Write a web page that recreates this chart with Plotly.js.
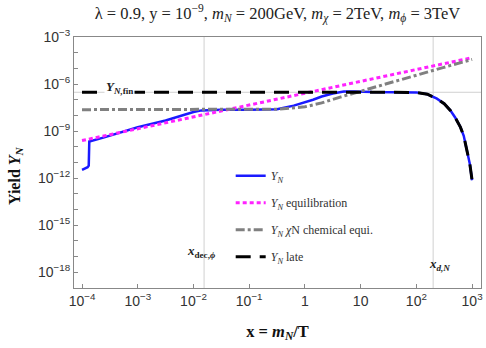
<!DOCTYPE html>
<html><head><meta charset="utf-8">
<script src="https://cdn.plot.ly/plotly-3.0.1.min.js"></script>
<style>html,body{margin:0;padding:0;background:#fff}#chart{width:486px;height:348px}</style>
</head><body><div id="chart"></div>
<script>
// Y_N (full solution)
const xBlue = [1.0e-4, 1.12e-4, 1.26e-4, 1.32e-4, 1.34e-4, 1.35e-4, 2.5e-4, 1e-3, 3.16e-3, 6.3e-3, 1e-2, 1.4e-2, 3.16e-2, 0.1, 0.316, 0.63, 1, 1.4, 2, 3.16, 5, 8, 16, 100, 158, 234, 316, 407, 500, 617, 708, 813, 912, 1000];
const yBlue = [3.4e-12, 4.0e-12, 5.0e-12, 6.3e-12, 3.2e-11, 2.2e-10, 4.0e-10, 1.78e-9, 4.8e-9, 1.0e-8, 1.66e-8, 2.1e-8, 2.3e-8, 2.3e-8, 2.5e-8, 4.2e-8, 6.6e-8, 1.0e-7, 1.6e-7, 2.5e-7, 3.3e-7, 3.4e-7, 3.1e-7, 2.95e-7, 2.24e-7, 1.17e-7, 5.6e-8, 2.1e-8, 7.1e-9, 1.8e-9, 5.0e-10, 6.0e-11, 7.9e-12, 7.4e-13];
// Y_N equilibration
const xEq = [1e-4, 1e-3, 1e-2, 1e-1, 1, 10, 100, 1000];
const yEq = [2.5e-10, 1.4e-9, 8.1e-9, 4.6e-8, 2.6e-7, 1.5e-6, 8.3e-6, 4.8e-5];
// Y_N chi-N chemical equilibrium
const xChem = [1e-4, 1e-3, 1e-2, 1e-1, 0.316, 1, 2, 4.3, 10, 30, 100, 300, 1000];
const yChem = [2.34e-8, 2.34e-8, 2.34e-8, 2.34e-8, 2.5e-8, 3.55e-8, 6.3e-8, 1.48e-7, 3.55e-7, 1.07e-6, 3.55e-6, 1.12e-5, 3.7e-5];
// Y_N late
const xLate = [1e-4, 1, 10, 100, 158, 234, 316, 407, 500, 617, 708, 813, 912, 1000];
const yLate = [3.0e-7, 3.0e-7, 3.0e-7, 2.95e-7, 2.24e-7, 1.17e-7, 5.6e-8, 2.1e-8, 7.1e-9, 1.8e-9, 5.0e-10, 6.0e-11, 7.9e-12, 7.4e-13];
// reference values
const yFin = 3.0e-7;
const xDecPhi = 0.0155;
const xdN = 200;
// ticks
const xTickVals = [1e-4, 1e-3, 1e-2, 1e-1, 1, 10, 100, 1000];
const xTickText = ['10<sup>−4</sup>', '10<sup>−3</sup>', '10<sup>−2</sup>', '10<sup>−1</sup>', '1', '10', '10<sup>2</sup>', '10<sup>3</sup>'];
const yTickVals = [1e-3, 1e-6, 1e-9, 1e-12, 1e-15, 1e-18];
const yTickText = ['10<sup>−3</sup>', '10<sup>−6</sup>', '10<sup>−9</sup>', '10<sup>−12</sup>', '10<sup>−15</sup>', '10<sup>−18</sup>'];
const yMinorVals = [1e-4, 1e-5, 1e-7, 1e-8, 1e-10, 1e-11, 1e-13, 1e-14, 1e-16, 1e-17];

const serif = 'Liberation Serif, Times New Roman, serif';
const sans = 'Liberation Sans, Arial, sans-serif';

const traces = [
  {x: xBlue, y: yBlue, mode: 'lines', name: '<i>Y<sub>N</sub></i>', legendgroup: 'a',
   line: {color: '#1a1aff', width: 2.5}},
  {x: xEq, y: yEq, mode: 'lines', name: '<i>Y<sub>N</sub></i> equilibration', legendgroup: 'b',
   line: {color: '#ff22ff', width: 3, dash: '4px,3px'}},
  {x: xChem, y: yChem, mode: 'lines', name: '<i>Y<sub>N</sub> χ</i>N chemical equi.', legendgroup: 'c',
   line: {color: '#808080', width: 3, dash: '9px,3px,3px,3px'}},
  {x: xLate, y: yLate, mode: 'lines', name: '<i>Y<sub>N</sub></i> late', legendgroup: 'd',
   line: {color: '#000000', width: 3, dash: '15px,9px'}}
];

const layout = {
  width: 486, height: 348,
  margin: {l: 74, r: 5, t: 37, b: 60},
  paper_bgcolor: '#fff', plot_bgcolor: '#fff',
  title: {text: 'λ = 0.9, y = 10<sup>−9</sup>, <i>m<sub>N</sub></i> = 200GeV, <i>m<sub>χ</sub></i> = 2TeV, <i>m<sub>ϕ</sub></i> = 3TeV',
          font: {family: serif, size: 16.5, color: '#222'}, x: 0.5, xref: 'paper', xanchor: 'center', y: 0.962, yref: 'container', yanchor: 'middle'},
  xaxis: {type: 'log', range: [-4.144, 3.16], tickvals: xTickVals, ticktext: xTickText,
          ticks: 'inside', ticklen: 4, tickcolor: '#888', showgrid: false, zeroline: false,
          showline: true, linecolor: '#888', linewidth: 1, mirror: true,
          tickfont: {family: sans, size: 14, color: '#333'},
          title: {text: '<b>x = <i>m<sub>N</sub></i>/T</b>', font: {family: serif, size: 16.5, color: '#111'}, standoff: 17}},
  yaxis: {type: 'log', range: [-19, -3], tickvals: yTickVals, ticktext: yTickText,
          ticks: 'inside', ticklen: 4, tickcolor: '#888', showgrid: false, zeroline: false,
          showline: true, linecolor: '#888', linewidth: 1, mirror: true,
          tickfont: {family: sans, size: 14, color: '#333'},
          minor: {tickmode: 'array', tickvals: yMinorVals, ticks: 'inside', ticklen: 4, tickcolor: '#888', showgrid: false}},
  showlegend: true,
  legend: {x: 0.385, y: 0.505, xanchor: 'left', yanchor: 'top', bgcolor: 'rgba(0,0,0,0)',
           font: {family: serif, size: 12, color: '#333'}, tracegroupgap: 8, traceorder: 'grouped'},
  shapes: [
    {type: 'line', xref: 'x', yref: 'paper', x0: xDecPhi, x1: xDecPhi, y0: 0, y1: 1, layer: 'below', line: {color: '#d0d0d0', width: 1}},
    {type: 'line', xref: 'x', yref: 'paper', x0: xdN, x1: xdN, y0: 0, y1: 1, layer: 'below', line: {color: '#d0d0d0', width: 1}},
    {type: 'line', xref: 'paper', yref: 'y', x0: 0, x1: 1, y0: yFin, y1: yFin, layer: 'below', line: {color: '#d0d0d0', width: 1}}
  ],
  annotations: [
    {text: '<b>Yield <i>Y<sub>N</sub></i></b>', xref: 'paper', yref: 'paper', x: -0.145, y: 0.45, textangle: -90,
     showarrow: false, xanchor: 'center', yanchor: 'middle', font: {family: serif, size: 16, color: '#111'}},
    {text: '<b><i>Y<sub>N,</sub></i><sub>fin</sub></b>', x: -3.32, y: -6.2, xref: 'x', yref: 'y', showarrow: false,
     bgcolor: '#ffffff', borderpad: 1, font: {family: serif, size: 13, color: '#222'}},
    {text: '<b><i>x</i><sub>dec,<i>ϕ</i></sub></b>', x: -1.86, y: -16.7, xref: 'x', yref: 'y', showarrow: false,
     font: {family: serif, size: 13, color: '#222'}},
    {text: '<b><i>x<sub>d,N</sub></i></b>', x: 2.41, y: -17.47, xref: 'x', yref: 'y', showarrow: false,
     font: {family: serif, size: 13, color: '#222'}}
  ]
};

Plotly.newPlot('chart', traces, layout, {staticPlot: true, displayModeBar: false});
</script>
</body></html>
